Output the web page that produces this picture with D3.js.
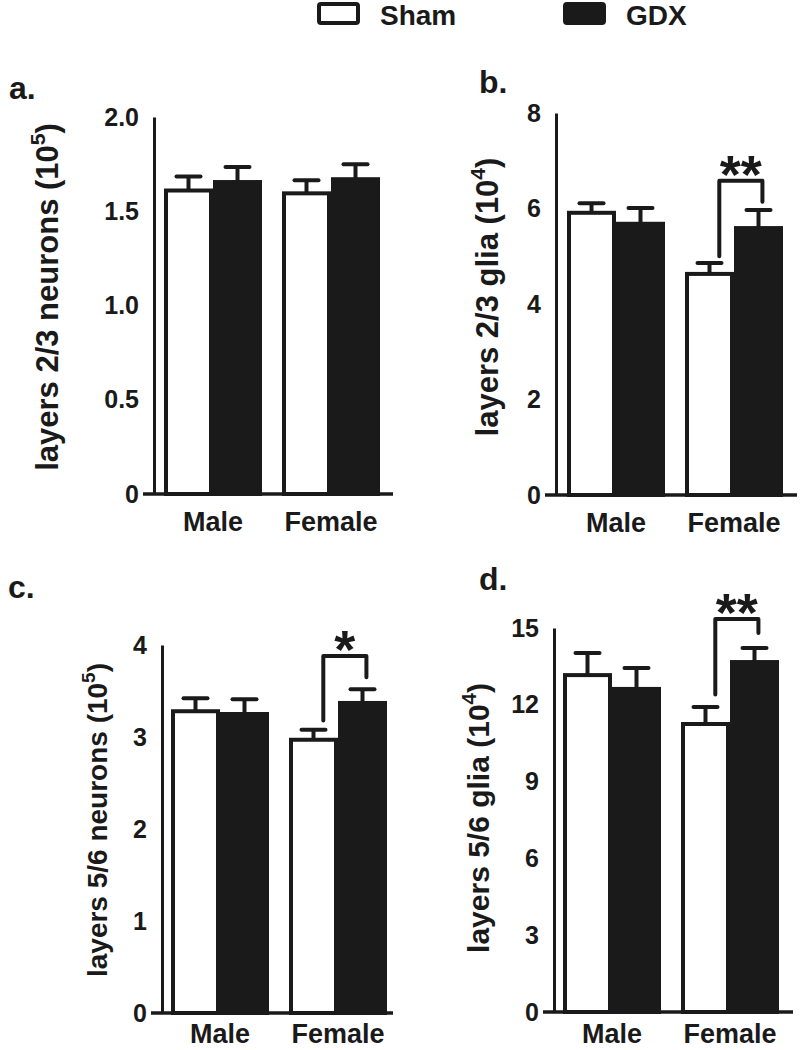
<!DOCTYPE html>
<html>
<head>
<meta charset="utf-8">
<script src="https://cdn.jsdelivr.net/npm/d3@7"></script>
<style>
  html, body { margin: 0; padding: 0; background: #ffffff; }
  svg { display: block; }
  text { font-family: "Liberation Sans", Arial, sans-serif; font-weight: bold; fill: #1a1a1a; }
</style>
</head>
<body>
<svg id="chart" width="802" height="1050"></svg>
<script>
// ---------------- data ----------------
const categories = ["Male", "Female"];
const series = ["Sham", "GDX"];

const panelLetters = ["a.", "b.", "c.", "d."];
const yTitleMain = ["layers 2/3 neurons (10", "layers 2/3 glia (10", "layers 5/6 neurons (10", "layers 5/6 glia (10"];
const yTitleExp = ["5", "4", "5", "4"];

const yMax = [2.0, 8, 4, 15];
const tickValuesA = [0, 0.5, 1.0, 1.5, 2.0];
const tickLabelsA = ["0", "0.5", "1.0", "1.5", "2.0"];
const tickValuesB = [0, 2, 4, 6, 8];
const tickValuesC = [0, 1, 2, 3, 4];
const tickValuesD = [0, 3, 6, 9, 12, 15];

// means per category (Male, Female) and upper SEM
const shamA = [1.61, 1.595];  const shamErrA = [0.075, 0.07];
const gdxA  = [1.655, 1.67];  const gdxErrA  = [0.08, 0.08];
const shamB = [5.91, 4.63];   const shamErrB = [0.20, 0.23];
const gdxB  = [5.68, 5.59];   const gdxErrB  = [0.33, 0.38];
const shamC = [3.28, 2.97];   const shamErrC = [0.14, 0.11];
const gdxC  = [3.25, 3.37];   const gdxErrC  = [0.16, 0.15];
const shamD = [13.16, 11.25]; const shamErrD = [0.86, 0.66];
const gdxD  = [12.62, 13.67]; const gdxErrD  = [0.82, 0.55];

// significance brackets on Female: [top, left leg end, right leg end], label
const bracketB = [6.58, 5.0, 6.14];  const starsB = "**";
const bracketC = [3.88, 3.18, 3.65]; const starsC = "*";
const bracketD = [15.35, 12.4, 14.8]; const starsD = "**";

// ---------------- layout ----------------
const INK = "#1a1a1a";
const panels = [
  { letter: panelLetters[0], title: yTitleMain[0], exp: yTitleExp[0], max: yMax[0],
    ticks: tickValuesA, tickLabels: tickLabelsA, sham: shamA, shamErr: shamErrA, gdx: gdxA, gdxErr: gdxErrA,
    bracket: null, stars: null,
    axisX: 154, yTop: 117, y0: 494, xEnd: 393, barStart: 164,
    titleX: 47, titleY: 297, titleSize: 31, letterX: 9, letterY: 99 },
  { letter: panelLetters[1], title: yTitleMain[1], exp: yTitleExp[1], max: yMax[1],
    ticks: tickValuesB, tickLabels: null, sham: shamB, shamErr: shamErrB, gdx: gdxB, gdxErr: gdxErrB,
    bracket: bracketB, stars: starsB,
    axisX: 556, yTop: 113, y0: 495, xEnd: 797, barStart: 567,
    titleX: 487, titleY: 297, titleSize: 31, letterX: 479, letterY: 93 },
  { letter: panelLetters[2], title: yTitleMain[2], exp: yTitleExp[2], max: yMax[2],
    ticks: tickValuesC, tickLabels: null, sham: shamC, shamErr: shamErrC, gdx: gdxC, gdxErr: gdxErrC,
    bracket: bracketC, stars: starsC,
    axisX: 162, yTop: 645, y0: 1013, xEnd: 393, barStart: 171,
    titleX: 97, titleY: 820, titleSize: 28, letterX: 8, letterY: 598 },
  { letter: panelLetters[3], title: yTitleMain[3], exp: yTitleExp[3], max: yMax[3],
    ticks: tickValuesD, tickLabels: null, sham: shamD, shamErr: shamErrD, gdx: gdxD, gdxErr: gdxErrD,
    bracket: bracketD, stars: starsD,
    axisX: 554, yTop: 628, y0: 1012, xEnd: 793, barStart: 563,
    titleX: 478, titleY: 818, titleSize: 30, letterX: 479, letterY: 590 }
];

const svg = d3.select("#chart");
svg.append("rect").attr("width", 802).attr("height", 1050).attr("fill", "#ffffff");

// ---------------- legend ----------------
const legend = svg.append("g");
legend.append("rect").attr("x", 319).attr("y", 4).attr("width", 39).attr("height", 19).attr("rx", 2)
  .attr("fill", "#ffffff").attr("stroke", INK).attr("stroke-width", 4);
legend.append("text").attr("x", 380).attr("y", 25).attr("font-size", 28).text(series[0]);
legend.append("rect").attr("x", 565).attr("y", 4).attr("width", 39).attr("height", 19).attr("rx", 2)
  .attr("fill", INK).attr("stroke", INK).attr("stroke-width", 4);
legend.append("text").attr("x", 626).attr("y", 25).attr("font-size", 28).text(series[1]);

// ---------------- panels ----------------
function drawPanel(p) {
  const g = svg.append("g");
  const y = d3.scaleLinear().domain([0, p.max]).range([p.y0, p.yTop]);
  const groupW = 98, gap = 20;
  const pad = gap / (groupW + gap);
  const x = d3.scaleBand().domain(categories)
    .range([p.barStart, p.barStart + (groupW + gap) * (2 - pad)])
    .paddingInner(pad).paddingOuter(0);
  const sub = d3.scaleBand().domain(series).range([0, x.bandwidth()]).padding(0);

  const rows = [];
  categories.forEach((c, i) => {
    rows.push({ cat: c, s: series[0], v: p.sham[i], e: p.shamErr[i] });
    rows.push({ cat: c, s: series[1], v: p.gdx[i], e: p.gdxErr[i] });
  });

  // error bars (upper only)
  rows.forEach(r => {
    const cx = x(r.cat) + sub(r.s) + sub.bandwidth() / 2;
    g.append("line").attr("x1", cx).attr("x2", cx).attr("y1", y(r.v)).attr("y2", y(r.v + r.e))
      .attr("stroke", INK).attr("stroke-width", 4);
    g.append("line").attr("x1", cx - 12).attr("x2", cx + 12).attr("y1", y(r.v + r.e)).attr("y2", y(r.v + r.e))
      .attr("stroke", INK).attr("stroke-width", 4).attr("stroke-linecap", "round");
  });

  g.selectAll("rect.bar").data(rows).enter().append("rect").attr("class", "bar")
    .attr("x", d => x(d.cat) + sub(d.s) + 2)
    .attr("width", sub.bandwidth() - 4)
    .attr("y", d => y(d.v))
    .attr("height", d => p.y0 - y(d.v))
    .attr("fill", d => d.s === "Sham" ? "#ffffff" : INK)
    .attr("stroke", INK).attr("stroke-width", 4);

  // y axis
  const yAxis = d3.axisLeft(y).tickValues(p.ticks).tickSize(0).tickPadding(15)
    .tickFormat((d, i) => p.tickLabels ? p.tickLabels[i] : d3.format("d")(d));
  const ya = g.append("g").attr("transform", `translate(${p.axisX},0)`).call(yAxis);
  ya.select(".domain").attr("stroke", INK).attr("stroke-width", 3);
  ya.selectAll(".tick text").attr("font-size", 25).attr("font-family", "Liberation Sans, Arial, sans-serif")
    .attr("font-weight", "bold").attr("fill", INK);

  // x axis line
  g.append("line").attr("x1", p.axisX - 11).attr("x2", p.xEnd).attr("y1", p.y0).attr("y2", p.y0)
    .attr("stroke", INK).attr("stroke-width", 3.5);

  // x labels
  const labelY = Math.min(37, 1043 - p.y0);
  const xAxis = d3.axisBottom(x).tickSize(0).tickPadding(0);
  const xa = g.append("g").attr("transform", `translate(0,${p.y0})`).call(xAxis);
  xa.select(".domain").remove();
  xa.selectAll(".tick text").attr("font-size", 27).attr("font-family", "Liberation Sans, Arial, sans-serif")
    .attr("font-weight", "bold").attr("fill", INK).attr("dy", null).attr("y", labelY);

  // y title
  const t = g.append("text")
    .attr("transform", `translate(${p.titleX},${p.titleY}) rotate(-90)`)
    .attr("text-anchor", "middle").attr("dy", "0.35em").attr("font-size", p.titleSize);
  t.append("tspan").text(p.title);
  t.append("tspan").attr("font-size", p.titleSize * 0.68).attr("dy", -p.titleSize * 0.42).text(p.exp);
  t.append("tspan").attr("dy", p.titleSize * 0.42).text(")");

  // panel letter
  g.append("text").attr("x", p.letterX).attr("y", p.letterY).attr("font-size", 32).text(p.letter);

  // significance bracket
  if (p.bracket) {
    const cFem = categories[1];
    const lx = x(cFem) + sub(series[0]) + sub.bandwidth() * 0.7;
    const rx = x(cFem) + sub(series[1]) + sub.bandwidth() * 0.58;
    const [top, lEnd, rEnd] = p.bracket;
    g.append("path")
      .attr("d", `M${lx},${y(lEnd)} V${y(top)} H${rx} V${y(rEnd)}`)
      .attr("fill", "none").attr("stroke", INK).attr("stroke-width", 4).attr("stroke-linecap", "round")
      .attr("stroke-linejoin", "round");
    g.append("text").attr("x", (lx + rx) / 2).attr("y", y(top) + 12)
      .attr("text-anchor", "middle").attr("font-size", 54).text(p.stars);
  }
}

panels.forEach(drawPanel);
</script>
</body>
</html>
